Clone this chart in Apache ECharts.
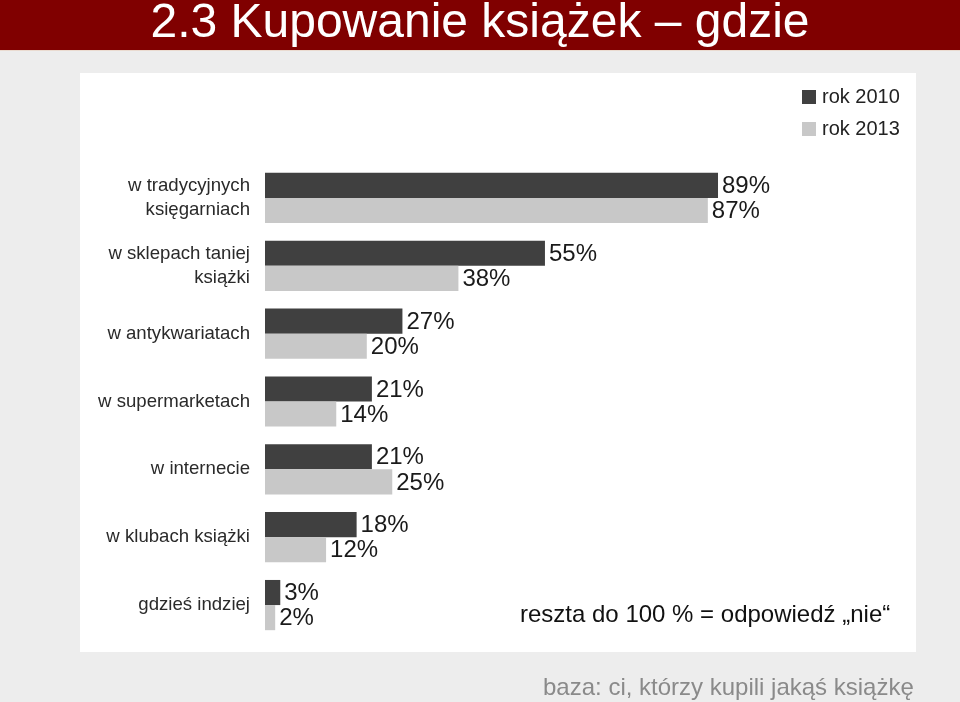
<!DOCTYPE html>
<html>
<head>
<meta charset="utf-8">
<script src="https://cdn.jsdelivr.net/npm/echarts@6/dist/echarts.min.js"></script>
<style>
html,body{margin:0;padding:0;background:#ededed;}
#main{width:960px;height:702px;}
</style>
</head>
<body>
<div id="main"></div>
<script>
const categories = [
  "w tradycyjnych\nksięgarniach",
  "w sklepach taniej\nksiążki",
  "w antykwariatach",
  "w supermarketach",
  "w internecie",
  "w klubach książki",
  "gdzieś indziej"
];
const values2010 = [89, 55, 27, 21, 21, 18, 3];
const values2013 = [87, 38, 20, 14, 25, 12, 2];
const seriesNames = ["rok 2010", "rok 2013"];
const titleText = "2.3 Kupowanie książek – gdzie";
const noteText = "reszta do 100 % = odpowiedź „nie“";
const baseText = "baza: ci, którzy kupili jakąś książkę";

const FONT = "'Liberation Sans', Arial, sans-serif";
const chart = echarts.init(document.getElementById('main'), null, {renderer: 'canvas'});

const labelCfg = {
  show: true,
  position: 'right',
  distance: 4,
  offset: [0, 1],
  formatter: '{c}%',
  fontSize: 24,
  fontFamily: FONT,
  color: '#1a1a1a'
};

chart.setOption({
  backgroundColor: '#ededed',
  animation: false,
  graphic: [
    {type: 'rect', shape: {x: 0, y: 0, width: 960, height: 50}, style: {fill: '#800000'}, z: -10},
    {type: 'rect', shape: {x: 0, y: 50, width: 960, height: 1}, style: {fill: '#eadbd0'}, z: -10},
    {type: 'rect', shape: {x: 80, y: 73, width: 836, height: 579}, style: {fill: '#ffffff'}, z: -10},
    {type: 'text', left: 'center', top: 0, style: {text: titleText, fill: '#ffffff', font: '48px ' + FONT}, z: 10},
    {type: 'text', x: 520, y: 615, style: {text: noteText, fill: '#111111', font: '24px ' + FONT, textVerticalAlign: 'middle'}, z: 10},
    {type: 'text', x: 543, y: 688, style: {text: baseText, fill: '#8a8a8a', font: '24px ' + FONT, textVerticalAlign: 'middle'}, z: 10}
  ],
  legend: {
    orient: 'vertical',
    left: 802,
    top: 87,
    padding: 0,
    itemWidth: 14,
    itemHeight: 14,
    itemGap: 12,
    icon: 'rect',
    data: seriesNames,
    textStyle: {fontSize: 20, fontFamily: FONT, color: '#222', padding: [0, 0, 0, 1]}
  },
  grid: {left: 265, right: 186, top: 164, bottom: 63, containLabel: false},
  xAxis: {
    type: 'value', min: 0, max: 100, show: false
  },
  yAxis: {
    type: 'category',
    data: categories,
    inverse: true,
    axisLine: {show: false},
    axisTick: {show: false},
    splitLine: {show: false},
    axisLabel: {
      fontSize: 18.6, fontFamily: FONT, color: '#2a2a2a', margin: 15, align: 'right', lineHeight: 24
    }
  },
  series: [
    {
      name: seriesNames[0], type: 'bar', data: values2010,
      barGap: '0%', barCategoryGap: '26%',
      itemStyle: {color: '#404040'},
      label: labelCfg
    },
    {
      name: seriesNames[1], type: 'bar', data: values2013,
      barGap: '0%', barCategoryGap: '26%',
      itemStyle: {color: '#c8c8c8'},
      label: labelCfg
    }
  ]
});
</script>
</body>
</html>
